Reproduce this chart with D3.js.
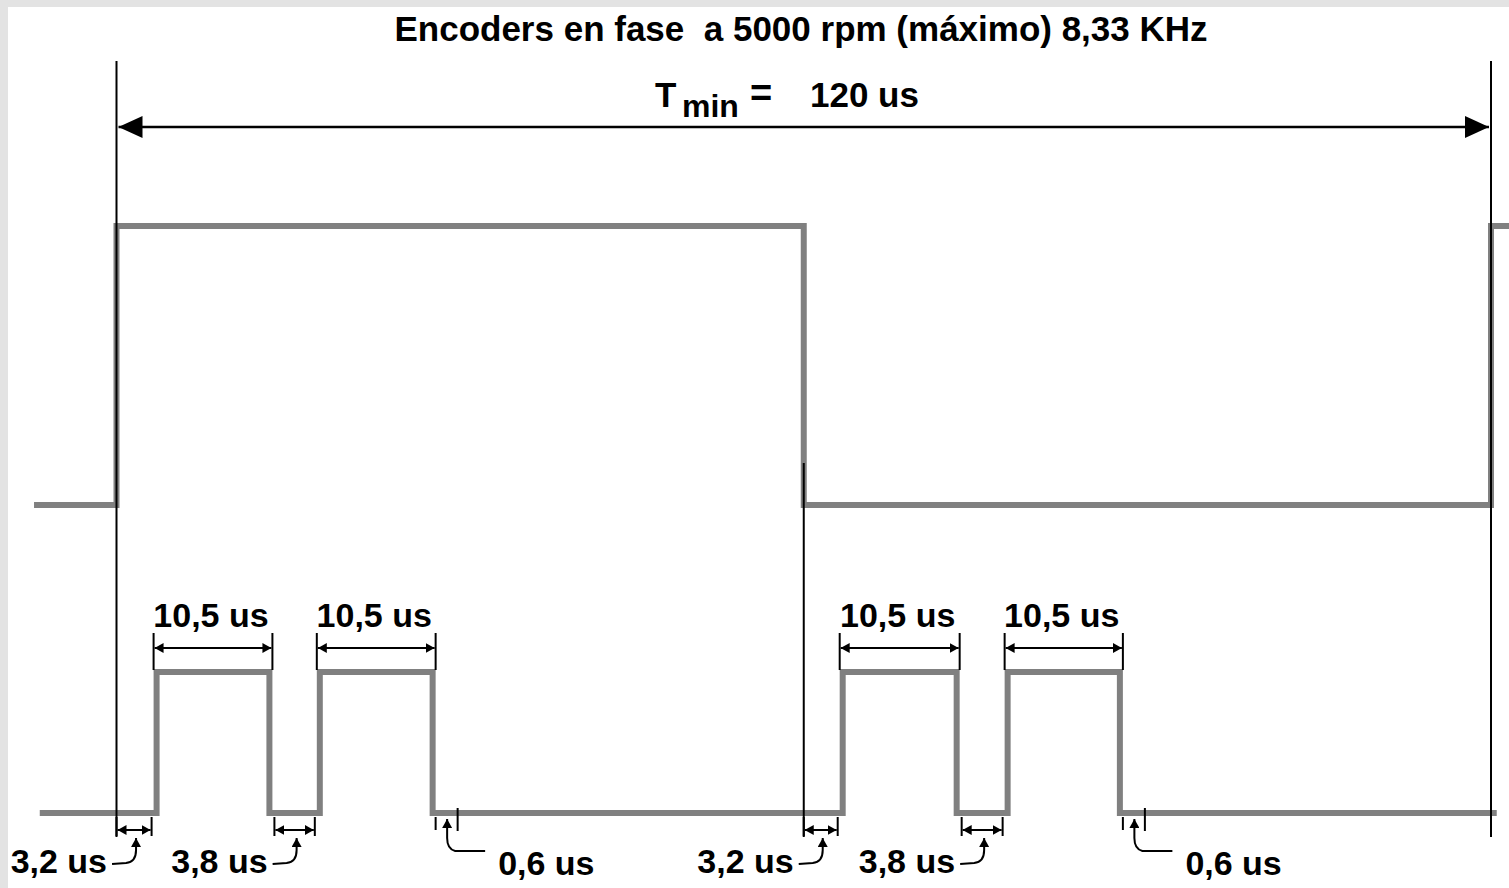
<!DOCTYPE html>
<html>
<head>
<meta charset="utf-8">
<script src="https://cdn.jsdelivr.net/npm/d3@7"></script>
<style>
  html, body { margin: 0; padding: 0; background: #fff; overflow: hidden; }
  text { font-family: "Liberation Sans", Arial, sans-serif; font-weight: bold; fill: #000; white-space: pre; }
</style>
</head>
<body>
<div id="chart"></div>
<script>
// --- Chart Dimensions ---
const width = 1509;
const height = 888;

// --- Data (times in microseconds) ---
const periodMarks = [0, 60, 120];
const topTimes = [-7.2, 0, 60, 120, 123];
const topLevels = [0, 1, 0, 1, 1];
const pulseTimes = [-6.7, 3.5, 13.35, 17.75, 27.6, 63.4, 73.35, 77.8, 87.6, 120.5];
const pulseLevels = [0, 1, 0, 1, 0, 1, 0, 1, 0, 0];
const wideDims = [[3.5, 13.35], [17.75, 27.6], [63.4, 73.35], [77.8, 87.6]];
const wideLabels = ["10,5 us", "10,5 us", "10,5 us", "10,5 us"];
const gapDims = [[0, 3.5], [13.35, 17.75], [60, 63.4], [73.35, 77.8]];
const gapLabels = ["3,2 us", "3,8 us", "3,2 us", "3,8 us"];
const tailDims = [27.6, 87.6];
const tailLabels = ["0,6 us", "0,6 us"];
const titleText = "Encoders en fase  a 5000 rpm (máximo) 8,33 KHz";
const periodLabel = "120 us";

// --- Scales ---
const x = d3.scaleLinear().domain([0, 120]).range([116.5, 1491]);
const yTop = d3.scaleLinear().domain([0, 1]).range([505, 226]);
const yBot = d3.scaleLinear().domain([0, 1]).range([813, 672]);

// --- SVG Setup ---
const svg = d3
  .select("#chart")
  .append("svg")
  .attr("width", width)
  .attr("height", height)
  .style("display", "block");

svg.append("rect").attr("width", width).attr("height", height).attr("fill", "#e3e3e3");
svg.append("rect").attr("x", 8).attr("y", 7).attr("width", width - 8).attr("height", height - 7).attr("fill", "#fff");

const defs = svg.append("defs");
function addMarker(id, len, half) {
  defs
    .append("marker")
    .attr("id", id)
    .attr("markerUnits", "userSpaceOnUse")
    .attr("viewBox", `0 0 ${len} ${half * 2}`)
    .attr("markerWidth", len)
    .attr("markerHeight", half * 2)
    .attr("refX", len)
    .attr("refY", half)
    .attr("orient", "auto-start-reverse")
    .append("path")
    .attr("d", `M0,0 L${len},${half} L0,${half * 2} Z`)
    .attr("fill", "#000");
}
addMarker("big", 24, 11);
addMarker("small", 9, 5);

// --- Waveforms ---
const zipLevels = (ts, ls) => ts.map((t, i) => [t, ls[i]]);

svg
  .append("path")
  .attr("d", d3.line().x((d) => x(d[0])).y((d) => yTop(d[1])).curve(d3.curveStepAfter)(zipLevels(topTimes, topLevels)))
  .attr("fill", "none")
  .attr("stroke", "#808080")
  .attr("stroke-width", 6);

svg
  .append("path")
  .attr("d", d3.line().x((d) => x(d[0])).y((d) => yBot(d[1])).curve(d3.curveStepAfter)(zipLevels(pulseTimes, pulseLevels)))
  .attr("fill", "none")
  .attr("stroke", "#808080")
  .attr("stroke-width", 6);

// --- Period reference lines ---
svg
  .selectAll("line.period")
  .data(periodMarks)
  .join("line")
  .attr("class", "period")
  .attr("x1", (d) => x(d))
  .attr("x2", (d) => x(d))
  .attr("y1", (d) => (d === 60 ? 463 : 61))
  .attr("y2", 837)
  .attr("stroke", "#000")
  .attr("stroke-width", 2);

// --- Title and period arrow ---
svg.append("text").attr("x", 801).attr("y", 41).attr("text-anchor", "middle").style("font-size", "35px").text(titleText);

svg.append("text").attr("x", 655).attr("y", 107).style("font-size", "35px").text("T");
svg.append("text").attr("x", 682).attr("y", 117).style("font-size", "32px").text("min");
svg.append("text").attr("x", 750).attr("y", 106).style("font-size", "38px").text("=");
svg.append("text").attr("x", 810).attr("y", 107).style("font-size", "35px").text(periodLabel);

svg
  .append("line")
  .attr("x1", x(0) + 2)
  .attr("x2", x(120) - 2)
  .attr("y1", 127)
  .attr("y2", 127)
  .attr("stroke", "#000")
  .attr("stroke-width", 2.5)
  .attr("marker-start", "url(#big)")
  .attr("marker-end", "url(#big)");

// --- Pulse width dimensions ---
wideDims.forEach(([t0, t1], i) => {
  const lx = x(t0) - 3;
  const rx = x(t1) + 3;
  const g = svg.append("g");
  [lx, rx].forEach((xx) =>
    g.append("line").attr("x1", xx).attr("x2", xx).attr("y1", 633).attr("y2", 670).attr("stroke", "#000").attr("stroke-width", 2)
  );
  g.append("line")
    .attr("x1", lx + 1).attr("x2", rx - 1).attr("y1", 648).attr("y2", 648)
    .attr("stroke", "#000").attr("stroke-width", 2)
    .attr("marker-start", "url(#small)").attr("marker-end", "url(#small)");
  g.append("text")
    .attr("x", (lx + rx) / 2 - 2)
    .attr("y", 627)
    .attr("text-anchor", "middle")
    .style("font-size", "34px")
    .text(wideLabels[i]);
});

// --- Gap dimensions ---
gapDims.forEach(([t0, t1], i) => {
  const lx = periodMarks.includes(t0) ? x(t0) : x(t0) + 5;
  const rx = x(t1) - 5;
  const mid = (lx + rx) / 2 + 2;
  const g = svg.append("g");
  [lx, rx].forEach((xx) =>
    g.append("line").attr("x1", xx).attr("x2", xx).attr("y1", 817).attr("y2", 836).attr("stroke", "#000").attr("stroke-width", 2)
  );
  g.append("line")
    .attr("x1", lx + 1).attr("x2", rx - 1).attr("y1", 830).attr("y2", 830)
    .attr("stroke", "#000").attr("stroke-width", 2)
    .attr("marker-start", "url(#small)").attr("marker-end", "url(#small)");
  g.append("path")
    .attr("d", `M${mid},838 V850 Q${mid},862 ${mid - 10},863 L${mid - 24},864`)
    .attr("fill", "none").attr("stroke", "#000").attr("stroke-width", 2)
    .attr("marker-start", "url(#small)");
  g.append("text")
    .attr("x", mid - 29)
    .attr("y", 873)
    .attr("text-anchor", "end")
    .style("font-size", "34px")
    .text(gapLabels[i]);
});

// --- Trailing 0,6 us dimensions ---
tailDims.forEach((t, i) => {
  const fx = x(t);
  const ax = fx + 14.5;
  const g = svg.append("g");
  g.append("line").attr("x1", fx + 3).attr("x2", fx + 3).attr("y1", 817).attr("y2", 830).attr("stroke", "#000").attr("stroke-width", 2);
  g.append("line").attr("x1", fx + 25).attr("x2", fx + 25).attr("y1", 808).attr("y2", 831).attr("stroke", "#000").attr("stroke-width", 2);
  g.append("path")
    .attr("d", `M${ax},819 V838 Q${ax},849 ${ax + 8},851 L${ax + 38},851`)
    .attr("fill", "none").attr("stroke", "#000").attr("stroke-width", 2)
    .attr("marker-start", "url(#small)");
  g.append("text")
    .attr("x", ax + 51)
    .attr("y", 875)
    .style("font-size", "34px")
    .text(tailLabels[i]);
});
</script>
</body>
</html>
